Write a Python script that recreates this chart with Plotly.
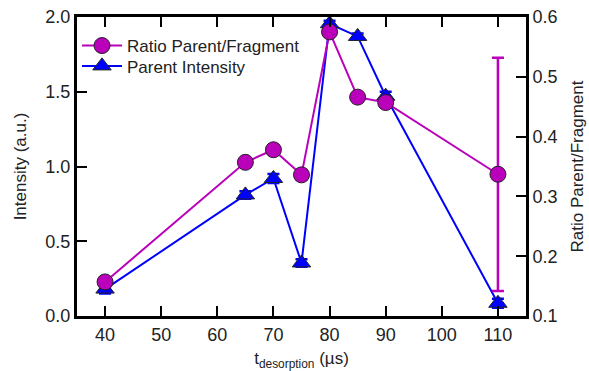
import plotly.graph_objects as go

# Desorption times (µs)
t_desorption = [40, 65, 70, 75, 80, 85, 90, 110]

# Parent ion intensity (a.u.) and its uncertainty
parent_intensity = [0.18, 0.81, 0.92, 0.355, 1.955, 1.87, 1.47, 0.085]
parent_err = [0.03, 0.025, 0.03, 0.025, 0.02, 0.02, 0.03, 0.03]

# Parent/fragment ratio and its uncertainty
ratio = [0.157, 0.357, 0.378, 0.336, 0.575, 0.466, 0.457, 0.337]
ratio_err = [0.008, 0.005, 0.005, 0.008, 0.006, 0.004, 0.004, 0.195]

MAGENTA = "#BB00BB"
BLUE = "#0000FF"
FONT = "Liberation Sans, Arial, sans-serif"

fig = go.Figure()

fig.add_trace(go.Scatter(
    x=t_desorption, y=ratio, yaxis="y2", name="Ratio Parent/Fragment",
    mode="lines+markers", legend="legend",
    line=dict(color=MAGENTA, width=2),
    marker=dict(symbol="circle", size=16, color=MAGENTA,
                line=dict(color="#222222", width=1)),
    error_y=dict(type="data", array=ratio_err, color=MAGENTA,
                 thickness=2.5, width=6),
))

fig.add_trace(go.Scatter(
    x=t_desorption, y=parent_intensity, yaxis="y", name="Parent Intensity",
    mode="lines+markers", legend="legend2",
    line=dict(color=BLUE, width=2),
    marker=dict(symbol="triangle-up", size=16, color=BLUE,
                line=dict(color="#222222", width=1)),
    error_y=dict(type="data", array=parent_err, color=BLUE,
                 thickness=2.5, width=6),
))

axis_common = dict(
    showgrid=False, zeroline=False, automargin=False,
    showline=True, linecolor="black", linewidth=3,
    ticks="inside", ticklen=10, tickwidth=2, tickcolor="black",
    tickfont=dict(family=FONT, size=18, color="#222222"),
)

legend_common = dict(xanchor="left", yanchor="middle",
                     bgcolor="rgba(0,0,0,0)", font=dict(size=17, color="#222222"),
                     itemwidth=40)

fig.update_layout(
    width=589, height=371,
    margin=dict(l=77, r=63, t=17, b=55),
    paper_bgcolor="white", plot_bgcolor="white",
    font=dict(family=FONT, color="#222222"),
    showlegend=True,
    legend=dict(x=0.0, y=0.903, **legend_common),
    legend2=dict(x=0.0, y=0.835, **legend_common),
    xaxis=dict(
        range=[35, 115], tickvals=[40, 50, 60, 70, 80, 90, 100, 110],
        mirror="ticks",
        title=dict(text="t<sub>desorption</sub> (µs)", font=dict(size=17)),
        **axis_common,
    ),
    yaxis=dict(
        range=[0, 2.0], tickvals=[0, 0.5, 1.0, 1.5, 2.0], tickformat=".1f",
        title=dict(text="Intensity (a.u.)", font=dict(size=17)),
        **axis_common,
    ),
    yaxis2=dict(
        range=[0.1, 0.6], tickvals=[0.1, 0.2, 0.3, 0.4, 0.5, 0.6], tickformat=".1f",
        overlaying="y", side="right",
        title=dict(text="Ratio Parent/Fragment", font=dict(size=17)),
        **axis_common,
    ),
)

fig.write_html("out.html")
